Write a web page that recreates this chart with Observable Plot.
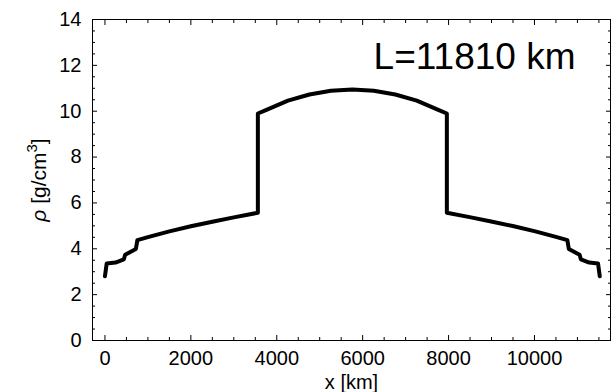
<!DOCTYPE html>
<html><head><meta charset="utf-8">
<script src="https://cdn.jsdelivr.net/npm/d3@7"></script>
<script src="https://cdn.jsdelivr.net/npm/@observablehq/plot@0.6"></script>
<style>html,body{margin:0;padding:0;background:#fff} svg{display:block}</style>
</head><body><div id="chart"></div>
<script>
// Density profile along the baseline
const distanceKm = [0, 40, 245, 440, 470, 720, 755, 1000, 1500, 2000, 2500, 3000, 3560, 3560, 3760, 4260, 4760, 5260, 5760,
  6260, 6760, 7260, 7760, 7960, 7960, 8520, 9020, 9520, 10020, 10520, 10765, 10800, 11050, 11080, 11275, 11480, 11520];
const densityGcm3 = [2.8, 3.36, 3.40, 3.54, 3.74, 3.99, 4.38, 4.51, 4.76, 4.98, 5.18, 5.37, 5.57, 9.90, 10.06, 10.46, 10.73, 10.89, 10.95,
  10.89, 10.73, 10.46, 10.06, 9.90, 5.57, 5.37, 5.18, 4.98, 4.76, 4.51, 4.38, 3.99, 3.74, 3.54, 3.40, 3.36, 2.8];

const xTicks = [0, 2000, 4000, 6000, 8000, 10000];
const xMinorTicks = [500, 1000, 1500, 2500, 3000, 3500, 4500, 5000, 5500, 6500, 7000, 7500, 8500, 9000, 9500, 10500, 11000, 11500];
const yTicks = [0, 2, 4, 6, 8, 10, 12, 14];
const yMinorTicks = [0.5, 1, 1.5, 2.5, 3, 3.5, 4.5, 5, 5.5, 6.5, 7, 7.5, 8.5, 9, 9.5, 10.5, 11, 11.5, 12.5, 13, 13.5];
const annotation = "L=11810 km";
const xLabel = "x [km]";
const yLabel = "ρ [g/cm3]";

const profile = distanceKm.map((x, i) => ({x, rho: densityGcm3[i]}));
const fmt = d => String(d);

const tickMarks = [];
for (const anchor of ["bottom", "top"]) {
  tickMarks.push(Plot.axisX(xTicks, {anchor, tickSize: -5, fill: "none", label: null, stroke: "black"}));
  tickMarks.push(Plot.axisX(xMinorTicks, {anchor, tickSize: -3, fill: "none", label: null, stroke: "black"}));
}
for (const anchor of ["left", "right"]) {
  tickMarks.push(Plot.axisY(yTicks, {anchor, tickSize: -5, fill: "none", label: null, stroke: "black"}));
  tickMarks.push(Plot.axisY(yMinorTicks, {anchor, tickSize: -3, fill: "none", label: null, stroke: "black"}));
}

const chart = Plot.plot({
  width: 611,
  height: 392,
  marginLeft: 92,
  marginRight: 1,
  marginTop: 19,
  marginBottom: 52,
  style: {fontFamily: "'Liberation Sans', Arial, Helvetica, sans-serif", fontSize: "20px", color: "black", background: "white"},
  x: {domain: [-290, 11770]},
  y: {domain: [0, 14]},
  marks: [
    Plot.axisX(xTicks, {anchor: "bottom", tickSize: 0, tickPadding: 10, tickFormat: fmt, label: null, fontSize: 20}),
    Plot.axisY(yTicks, {anchor: "left", tickSize: 0, tickPadding: 11, tickFormat: fmt, label: null, fontSize: 20}),
    ...tickMarks,
    Plot.frame({stroke: "black"}),
    Plot.line(profile, {x: "x", y: "rho", stroke: "black", strokeWidth: 4}),
    Plot.text([annotation], {frameAnchor: "top-right", dx: -35, dy: 49, lineAnchor: "bottom", textAnchor: "end", fontSize: 37}),
    Plot.text([xLabel], {frameAnchor: "bottom", dy: 48, lineAnchor: "bottom", textAnchor: "middle", fontSize: 20}),
    Plot.text([yLabel], {frameAnchor: "left", dx: -47, rotate: -90, lineAnchor: "bottom", textAnchor: "middle", fontSize: 21})
  ]
});

// Style the y label: italic rho and superscript 3
d3.select(chart).selectAll("text").filter(function() { return this.textContent === yLabel; }).each(function() {
  const t = d3.select(this);
  t.text(null);
  t.append("tspan").attr("font-style", "italic").text("ρ");
  t.append("tspan").text(" [g/cm");
  t.append("tspan").attr("font-size", 15).attr("dy", -9).text("3");
  t.append("tspan").attr("dy", 9).text("]");
});

document.getElementById("chart").appendChild(chart);
</script>
</body></html>
